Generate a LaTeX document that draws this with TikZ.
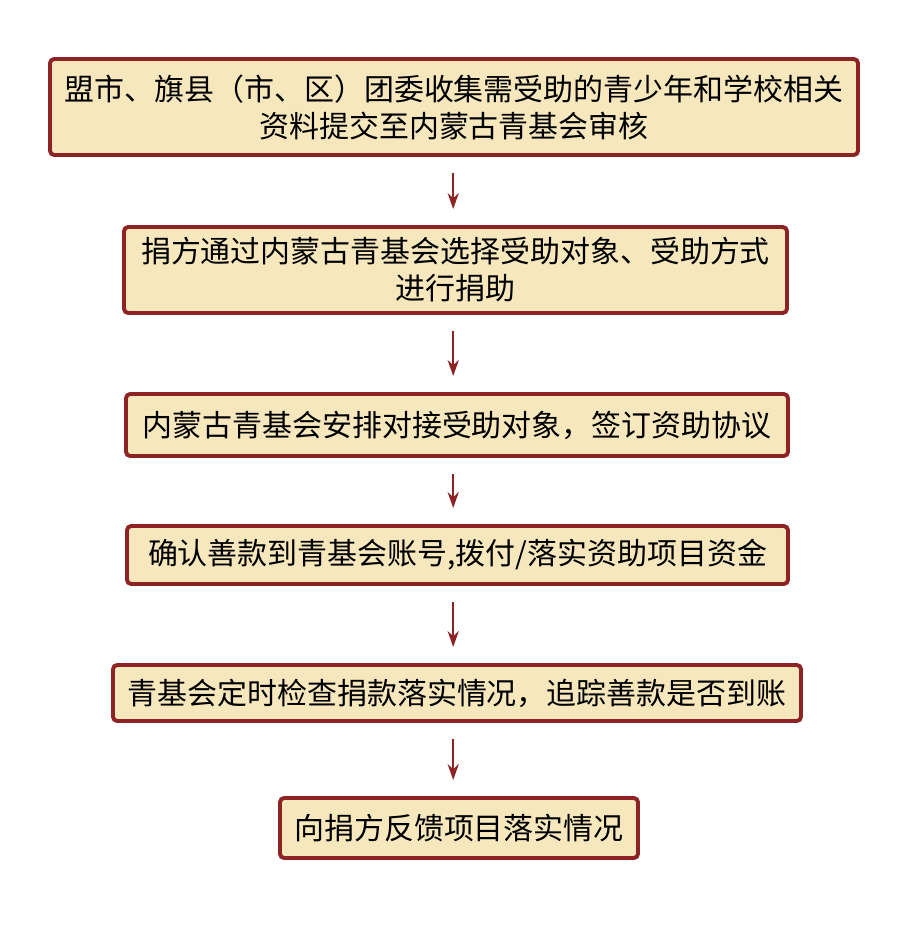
\documentclass[tikz,border=0pt]{standalone}
\usepackage{fontspec}
\newfontfamily\cjk{Noto Sans CJK SC}
\usepackage{xcolor}
\usetikzlibrary{positioning,arrows.meta}
\definecolor{boxred}{HTML}{8E2326}
\definecolor{boxfill}{HTML}{F6E7BD}
\tikzset{
  stepbox/.style={draw=boxred, fill=boxfill, line width=2.8pt, rounded corners=3pt,
    align=center, inner sep=0pt, font=\cjk\fontsize{21.3pt}{26.3pt}\selectfont},
  arr/.style={draw=boxred, line width=1.4pt, shorten >=0.4cm, shorten <=0.4cm,
    -{Stealth[length=0.4cm,width=0.28cm]}}
}
\begin{document}
\begin{tikzpicture}
\useasboundingbox (0,0) rectangle (22.5,-23.55);
\node[stepbox, minimum width=20.2cm, minimum height=2.4cm] (b1) at (11.35,-2.675)
  {盟市、旗县（市、区）团委收集需受助的青少年和学校相关\\资料提交至内蒙古青基会审核};
\node[stepbox, minimum width=16.575cm, minimum height=2.15cm] (b2) at (11.3875,-6.75)
  {捐方通过内蒙古青基会选择受助对象、受助方式\\进行捐助};
\node[stepbox, minimum width=16.55cm, minimum height=1.55cm] (b3) at (11.425,-10.625)
  {内蒙古青基会安排对接受助对象，签订资助协议};
\node[stepbox, minimum width=16.525cm, minimum height=1.45cm] (b4) at (11.4375,-13.875)
  {确认善款到青基会账号,拨付/落实资助项目资金};
\node[stepbox, minimum width=17.2cm, minimum height=1.4cm] (b5) at (11.425,-17.325)
  {青基会定时检查捐款落实情况，追踪善款是否到账};
\node[stepbox, minimum width=8.95cm, minimum height=1.5cm] (b6) at (11.475,-20.7)
  {向捐方反馈项目落实情况};
% arrows between the steps
\coordinate (ax) at (11.33,0);
\foreach \a/\b in {b1/b2,b2/b3,b3/b4,b4/b5,b5/b6}
  \draw[arr] (ax |- \a.south) -- (ax |- \b.north);
\end{tikzpicture}
\end{document}
